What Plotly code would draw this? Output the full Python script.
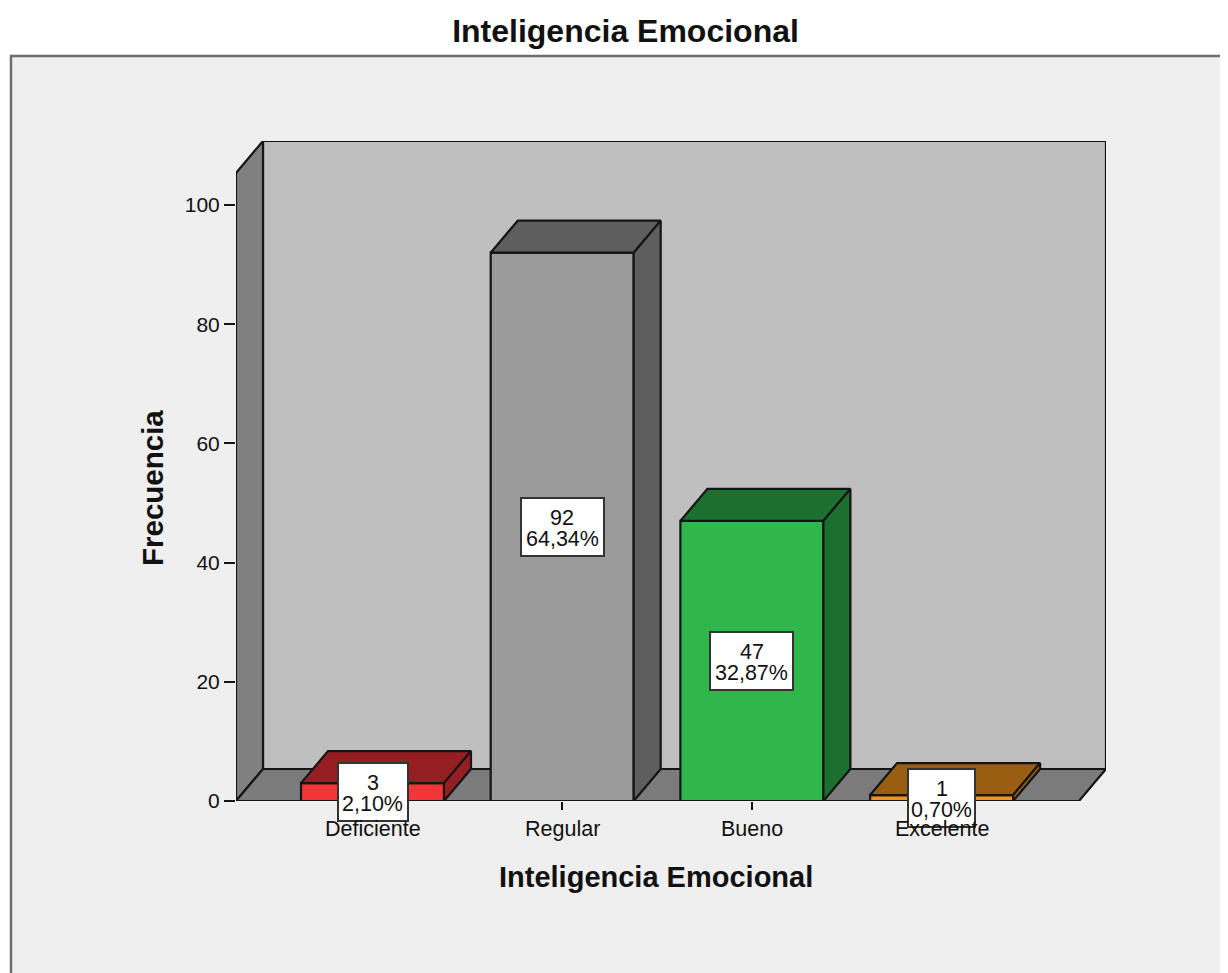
import plotly.graph_objects as go

title_text = "Inteligencia Emocional"
x_title = "Inteligencia Emocional"
y_title = "Frecuencia"
categories = ["Deficiente", "Regular", "Bueno", "Excelente"]
counts = [3, 92, 47, 1]
percents = ["2,10%", "64,34%", "32,87%", "0,70%"]
y_ticks = [0, 20, 40, 60, 80, 100]

front_colors = ["#f23539", "#9b9b9b", "#2fb74c", "#f2931f"]
dark_colors = ["#941e22", "#5e5e5e", "#1d6f2f", "#9a5e12"]
label_widths = [62, 75, 75, 59]

PAGE = 8  # browser body margin
W, H = 1228 - PAGE, 973 - PAGE
L, R, T, B = 236 - PAGE, 1106 - PAGE, 141 - PAGE, 801 - PAGE
PX_X = 189.7
PX_Y = 5.96
X0 = -(372.5 - 236) / PX_X
X1 = X0 + (R - L) / PX_X
Y1 = (B - T) / PX_Y
DX = 27 / PX_X
DY = 32 / PX_Y
BAR = 143 / PX_X
EDGE = "#151515"
TXT = "#111111"
FONT = "Liberation Sans"

fig = go.Figure()


def poly(xs, ys, color):
    fig.add_trace(go.Scatter(
        x=list(xs) + [xs[0]], y=list(ys) + [ys[0]], mode="lines", fill="toself",
        fillcolor=color, line=dict(color=EDGE, width=2.2), hoverinfo="skip",
        showlegend=False, cliponaxis=False))


def px_x(p):
    return (p - PAGE - L) / (R - L)


def px_y(p):
    return (B - (p - PAGE)) / (B - T)


# walls and floor
poly([X0 + DX, X1, X1, X0 + DX], [DY, DY, Y1, Y1], "#bfbfbf")
poly([X0, X0 + DX, X0 + DX, X0], [0, DY, Y1, Y1 - DY], "#808080")
poly([X0, X1 - DX, X1, X0 + DX], [0, 0, DY, DY], "#7b7b7b")

# bars
for i, v in enumerate(counts):
    a, b = i - BAR / 2, i + BAR / 2
    poly([a, b, b, a], [0, 0, v, v], front_colors[i])
    poly([a, b, b + DX, a + DX], [v, v, v + DY, v + DY], dark_colors[i])
    poly([b, b + DX, b + DX, b], [0, DY, v + DY, v], dark_colors[i])

label_font = dict(family=FONT, size=21.5, color=TXT)
annotations = []
for i, v in enumerate(counts):
    annotations.append(dict(
        x=i, y=v / 2, xref="x", yref="y", text=" ", showarrow=False, font=label_font,
        bgcolor="white", bordercolor="#333333", borderwidth=2, borderpad=3,
        width=label_widths[i], height=50))
for i, v in enumerate(counts):
    annotations.append(dict(x=i, y=v / 2, xref="x", yref="y", yshift=9, text=str(v),
                            showarrow=False, font=label_font))
    annotations.append(dict(x=i, y=v / 2, xref="x", yref="y", yshift=-12, text=percents[i],
                            showarrow=False, font=label_font))
for i, c in enumerate(categories):
    annotations.append(dict(x=i, y=0, xref="x", yref="y", yshift=-28, text=c,
                            showarrow=False, font=label_font))
annotations.append(dict(x=px_x(656), y=px_y(877), xref="paper", yref="paper", showarrow=False,
                        xanchor="center", yanchor="middle",
                        text=f"<b>{x_title}</b>", font=dict(family=FONT, size=29, color=TXT)))
annotations.append(dict(x=px_x(152), y=px_y(488), xref="paper", yref="paper", showarrow=False,
                        xanchor="center", yanchor="middle",
                        textangle=-90, text=f"<b>{y_title}</b>",
                        font=dict(family=FONT, size=29.5, color=TXT)))

fig.update_layout(
    width=W, height=H, margin=dict(l=L, r=W - R, t=T, b=H - B),
    paper_bgcolor="white", plot_bgcolor="rgba(0,0,0,0)", showlegend=False,
    font=dict(family=FONT, color=TXT),
    title=dict(text=f"<b>{title_text}</b>", x=(625.5 - PAGE) / W, xanchor="center",
               y=1 - (31 - PAGE) / H, yanchor="middle", font=dict(size=32, family=FONT, color=TXT)),
    xaxis=dict(range=[X0, X1], tickvals=list(range(len(categories))), ticktext=[""] * 4,
               ticks="outside", ticklen=8, tickcolor=EDGE, tickwidth=1.5, showgrid=False,
               zeroline=False, showline=False),
    yaxis=dict(range=[0, Y1], tickvals=y_ticks, ticks="outside", ticklen=11, tickcolor=EDGE,
               tickwidth=1.5, showgrid=False, zeroline=False, showline=False,
               tickfont=dict(size=21, family=FONT, color=TXT)),
    annotations=annotations,
    shapes=[dict(type="rect", layer="below", xref="paper", yref="paper",
                 x0=px_x(11), x1=px_x(1300), y0=px_y(1050), y1=px_y(56),
                 fillcolor="#efefef", line=dict(color="#6e6e6e", width=2.5))],
)
fig.write_html("out.html")
